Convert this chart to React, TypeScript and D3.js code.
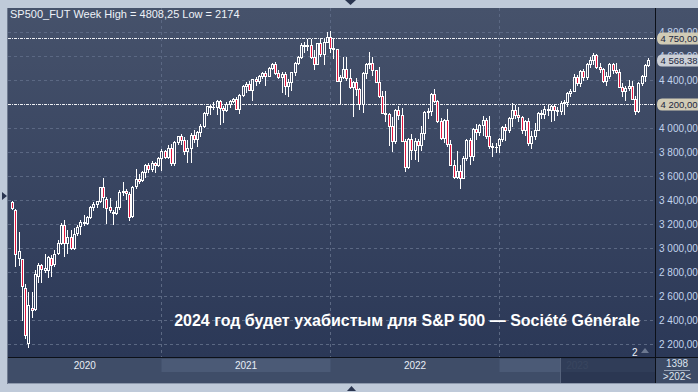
import React from "react";
import * as d3 from "d3";

// weekly candles [open, high, low, close], first week starts 17 Feb 2020
const w2020 = [
  [3380, 3393, 3328, 3337], [3320, 3322, 2850, 2951], [2920, 3137, 2860, 2972], [2905, 2912, 2400, 2680],
  [2667, 2700, 2250, 2275], [2210, 2637, 2174, 2526], [2500, 2637, 2428, 2480], [2490, 2818, 2480, 2783],
  [2770, 2879, 2715, 2862], [2860, 2870, 2717, 2827], [2820, 2954, 2800, 2830], [2815, 2934, 2760, 2925],
  [2920, 2945, 2766, 2858], [2870, 2980, 2850, 2950], [2960, 3068, 2950, 3041], [3040, 3210, 3030, 3190],
  [3190, 3232, 2935, 3039], [3040, 3150, 2960, 3090], [3090, 3152, 2995, 3000], [3000, 3165, 2990, 3120],
  [3125, 3190, 3105, 3177], [3180, 3233, 3120, 3220], [3220, 3275, 3190, 3210], [3210, 3270, 3200, 3260],
  [3260, 3350, 3250, 3345], [3345, 3385, 3320, 3368], [3368, 3395, 3345, 3392], [3395, 3510, 3385, 3505],
  [3505, 3585, 3345, 3425], [3410, 3425, 3210, 3335], [3340, 3420, 3300, 3315], [3300, 3320, 3200, 3295],
  [3295, 3395, 3280, 3340], [3340, 3480, 3325, 3470], [3470, 3547, 3440, 3475], [3475, 3490, 3410, 3455],
  [3450, 3465, 3233, 3260], [3265, 3520, 3260, 3505], [3520, 3660, 3500, 3575], [3575, 3620, 3540, 3555],
  [3565, 3645, 3560, 3635], [3635, 3700, 3590, 3695], [3695, 3710, 3630, 3660], [3660, 3725, 3640, 3705],
  [3705, 3720, 3630, 3690], [3690, 3760, 3680, 3750],
];
const w2021 = [
  [3750, 3825, 3650, 3810], [3810, 3820, 3750, 3760], [3760, 3860, 3750, 3835], [3835, 3865, 3695, 3705],
  [3705, 3890, 3695, 3880], [3880, 3935, 3865, 3930], [3930, 3950, 3865, 3900], [3900, 3925, 3780, 3805],
  [3810, 3900, 3720, 3835], [3835, 3955, 3720, 3940], [3940, 3980, 3880, 3910], [3910, 3975, 3850, 3970],
  [3970, 4030, 3935, 4015], [4015, 4130, 4010, 4125], [4125, 4185, 4105, 4180], [4180, 4190, 4115, 4175],
  [4175, 4215, 4160, 4178], [4175, 4235, 4120, 4225], [4225, 4235, 4030, 4170], [4170, 4185, 4050, 4150],
  [4150, 4215, 4145, 4200], [4200, 4235, 4175, 4225], [4225, 4250, 4215, 4245], [4245, 4260, 4155, 4160],
  [4160, 4285, 4125, 4275], [4275, 4355, 4270, 4350], [4350, 4380, 4300, 4365], [4365, 4390, 4320, 4320],
  [4320, 4410, 4230, 4405], [4405, 4425, 4360, 4390], [4390, 4440, 4375, 4430], [4430, 4465, 4420, 4460],
  [4460, 4475, 4360, 4435], [4435, 4505, 4430, 4500], [4500, 4545, 4495, 4530], [4530, 4550, 4450, 4455],
  [4455, 4485, 4420, 4425], [4425, 4465, 4300, 4450], [4450, 4470, 4280, 4350], [4350, 4410, 4270, 4385],
  [4385, 4470, 4320, 4465], [4465, 4550, 4445, 4540], [4540, 4600, 4530, 4595], [4595, 4710, 4580, 4690],
  [4690, 4715, 4630, 4680], [4680, 4740, 4650, 4695], [4695, 4740, 4580, 4590], [4590, 4650, 4490, 4535],
  [4535, 4710, 4530, 4705], [4705, 4740, 4600, 4615], [4615, 4740, 4530, 4720], [4720, 4800, 4715, 4760],
];
const w2022 = [
  [4760, 4808.25, 4630, 4670], [4670, 4745, 4580, 4655], [4655, 4660, 4390, 4390], [4390, 4445, 4210, 4425],
  [4425, 4595, 4415, 4495], [4495, 4590, 4400, 4415], [4415, 4490, 4330, 4345], [4345, 4395, 4100, 4380],
  [4380, 4415, 4275, 4325], [4325, 4330, 4155, 4200], [4200, 4465, 4130, 4455], [4455, 4545, 4420, 4535],
  [4535, 4630, 4500, 4540], [4540, 4595, 4440, 4480], [4480, 4485, 4380, 4385], [4385, 4510, 4260, 4265],
  [4265, 4310, 4125, 4125], [4125, 4305, 4060, 4115], [4115, 4125, 3855, 4015], [4015, 4090, 3805, 3895],
  [3895, 4160, 3875, 4150], [4150, 4180, 4075, 4105], [4105, 4170, 3895, 3895], [3895, 3905, 3640, 3675],
  [3675, 3915, 3665, 3905], [3905, 3950, 3740, 3820], [3820, 3920, 3745, 3895], [3895, 3910, 3725, 3860],
  [3860, 4015, 3820, 3960], [3960, 4140, 3910, 4130], [4130, 4165, 4080, 4140], [4140, 4290, 4110, 4280],
  [4280, 4325, 4220, 4225], [4225, 4230, 4050, 4055], [4055, 4085, 3905, 3920], [3920, 4075, 3880, 4065],
  [4065, 4160, 3850, 3870], [3870, 3900, 3690, 3690], [3690, 3735, 3585, 3590], [3590, 3810, 3585, 3640],
  [3640, 3690, 3502, 3585], [3585, 3765, 3590, 3750], [3750, 3905, 3735, 3900], [3900, 3920, 3700, 3770],
  [3770, 4000, 3735, 3990], [3990, 4030, 3905, 3965], [3965, 4035, 3940, 4025], [4025, 4100, 3940, 4070],
  [4070, 4080, 3920, 3935], [3935, 4100, 3830, 3850], [3850, 3875, 3765, 3845], [3845, 3875, 3800, 3840],
];
const w2023 = [
  [3860, 3920, 3800, 3910], [3910, 4015, 3890, 4010], [4010, 4030, 3900, 3985], [3985, 4095, 3970, 4085],
  [4085, 4210, 4020, 4150], [4150, 4195, 4080, 4105], [4105, 4175, 4060, 4095], [4095, 4100, 3960, 3985],
  [3985, 4070, 3945, 4060], [4060, 4085, 3860, 3875], [3875, 3975, 3835, 3930], [3930, 4040, 3905, 3985],
  [3985, 4130, 3980, 4125], [4125, 4150, 4080, 4120], [4120, 4180, 4080, 4155], [4155, 4190, 4110, 4150],
  [4150, 4190, 4060, 4185], [4185, 4200, 4070, 4150], [4150, 4175, 4110, 4140], [4140, 4225, 4115, 4210],
  [4210, 4230, 4120, 4220], [4220, 4300, 4180, 4295], [4295, 4325, 4270, 4310], [4310, 4450, 4305, 4425],
  [4425, 4440, 4360, 4375], [4375, 4480, 4350, 4475], [4475, 4490, 4400, 4425], [4425, 4545, 4410, 4530],
  [4530, 4595, 4505, 4565], [4565, 4625, 4530, 4610], [4610, 4620, 4500, 4505], [4505, 4545, 4470, 4490],
  [4490, 4500, 4380, 4395], [4395, 4470, 4360, 4430], [4430, 4545, 4420, 4535], [4535, 4545, 4460, 4480],
  [4480, 4545, 4460, 4470], [4470, 4490, 4340, 4345], [4345, 4375, 4265, 4310], [4310, 4350, 4230, 4335],
  [4335, 4400, 4320, 4350], [4350, 4395, 4240, 4245], [4245, 4270, 4120, 4140], [4140, 4380, 4130, 4375],
  [4375, 4440, 4355, 4430], [4430, 4530, 4390, 4525], [4525, 4580, 4520, 4568.38],
];

const years = ["2020", "2021", "2022", "2023"];
const priceTicks = [2200, 2400, 2600, 2800, 3000, 3200, 3400, 3600, 3800, 4000, 4200, 4400, 4600, 4800];
const levels = [4750, 4200];
const lastPrice = 4568.38;
const header = "SP500_FUT Week High = 4808,25 Low = 2174";
const title = "2024 год будет ухабистым для S&P 500 — Société Générale";

const ru = d3.formatLocale({ decimal: ",", thousands: " ", grouping: [3], currency: ["", ""] });
const fmt = ru.format(",.2f");

const FONT = "'Liberation Sans', Arial, sans-serif";

export default function App() {
  const W = 698;
  const H = 392;
  const L = 8, R = 655, T = 8, B = 357;

  const weeks = [...w2020, ...w2021, ...w2022, ...w2023];
  const yearLens = [w2020.length, w2021.length, w2022.length, w2023.length];
  const yearStart = yearLens.map((_, k) => d3.sum(yearLens.slice(0, k)));

  const x = d3.scaleLinear().domain([0, weeks.length - 1]).range([12.2, 648.2]);
  const y = d3.scaleLinear().domain([2200, 4800]).range([344, 32]);

  // year boundaries (grid lines + bottom bands)
  const gridX = yearStart.slice(1).map((i) => Math.round(x(i)) + 0.5);
  const edges = [L, ...gridX, R];

  // tick labels hidden by a level tag of the same value are not drawn
  const axisTicks = priceTicks.filter((v) => !levels.includes(v));
  const tags = [...levels.map((v) => ({ v, fill: "#d1cbb5" })), { v: lastPrice, fill: "#cbcfd6" }];

  return (
    <div style={{ position: "absolute", left: 0, top: 0 }}>
      <svg width={W} height={H} style={{ display: "block", fontFamily: FONT }}>
        <defs>
          <linearGradient id="bg" gradientUnits="userSpaceOnUse" x1="0" y1={T} x2="0" y2={B}>
            <stop offset="0" stopColor="#46526b" />
            <stop offset="1" stopColor="#2b3857" />
          </linearGradient>
          <clipPath id="plot">
            <rect x={L} y={T} width={R - L} height={B - T} />
          </clipPath>
        </defs>

        {/* frame */}
        <rect width={W} height={H} fill="#bfcad9" />
        <rect x={L} y={T} width={W - L} height={B - T} fill="url(#bg)" />
        <line x1={7.5} y1={T} x2={7.5} y2={384} stroke="#6f7b90" />

        {/* grid */}
        {priceTicks.map((v) => (
          <line key={v} x1={L} x2={R} y1={Math.round(y(v)) + 0.5} y2={Math.round(y(v)) + 0.5}
            stroke="#5b6883" strokeDasharray="3,3" />
        ))}
        {gridX.map((gx) => (
          <line key={gx} x1={gx} x2={gx} y1={T} y2={B} stroke="#5b6883" strokeDasharray="3,3" />
        ))}

        {/* level lines */}
        {levels.map((v) => (
          <line key={v} x1={L} x2={R} y1={Math.round(y(v)) + 0.5} y2={Math.round(y(v)) + 0.5}
            stroke="#eef0f4" strokeDasharray="3,1,1,1" />
        ))}

        {/* candles */}
        <g clipPath="url(#plot)">
          {weeks.map(([o, h, l, c], i) => {
            const cx = Math.round(x(i));
            const top = Math.round(y(Math.max(o, c)));
            const bot = Math.round(y(Math.min(o, c)));
            return (
              <g key={i}>
                <line x1={cx + 0.5} x2={cx + 0.5} y1={Math.round(y(h))} y2={Math.round(y(l)) + 1} stroke="#ffffff" />
                <rect x={cx - 1} y={top} width={3} height={bot - top + 1} fill="#ffffff" />
                {bot - top > 1 && (
                  <rect x={cx} y={top + 1} width={1} height={bot - top - 1}
                    fill={c < o ? "#e4163e" : "url(#bg)"} />
                )}
              </g>
            );
          })}
        </g>

        {/* header */}
        <text x={10} y={18} fontSize={11} fill="#eef2f8">{header}</text>

        {/* title */}
        <text x={640} y={326} textAnchor="end" fontSize={16} fontWeight="bold" fill="#ffffff">{title}</text>

        {/* marker bottom right */}
        <text x={632} y={356} fontSize={10} fill="#eef2f8">2</text>
        <path d="M641,353 L645,348 L649,353 Z" fill="#6c7890" />

        {/* price axis */}
        {axisTicks.map((v) => (
          <text key={v} x={659} y={y(v) + 3.5} fontSize={10} fill="#c3d4ee">{fmt(v)}</text>
        ))}
        {tags.map(({ v, fill }) => {
          const yy = Math.round(y(v)) + 0.5;
          return (
            <g key={v}>
              <path d={`M657,${yy} Q657,${yy - 6} 662,${yy - 6} H698 V${yy + 6} H662 Q657,${yy + 6} 657,${yy} Z`} fill={fill} />
              <text x={660.5} y={yy + 3.5} fontSize={9.5} fill="#1c2741">{fmt(v)}</text>
            </g>
          );
        })}

        {/* date axis */}
        <rect x={L} y={358} width={R - L} height={25} fill="#3f4d68" />
        {years.map((yr, k) =>
          k % 2 === 1 ? (
            <rect key={yr} x={edges[k]} y={359} width={edges[k + 1] - edges[k]} height={13} fill="#4b5a76" />
          ) : null
        )}
        {years.map((yr, k) => (
          <text key={yr} x={(edges[k] + edges[k + 1]) / 2} y={369} textAnchor="middle" fontSize={10}
            fill={k === 3 ? "#5d6c86" : "#e8eef6"}>{yr}</text>
        ))}
        <rect x={560} y={358} width={R - 560} height={25} fill="#1c2640" opacity={0.55} />
        <line x1={560.5} x2={560.5} y1={358} y2={383} stroke="#56637c" />

        {/* bottom-right box */}
        <rect x={656} y={358} width={W - 656} height={25} fill="#3d4b66" />
        <text x={677} y={367} textAnchor="middle" fontSize={10} fill="#dde4ee">1398</text>
        <line x1={664} x2={690} y1={370.5} y2={370.5} stroke="#9aa6b8" />
        <text x={677} y={380} textAnchor="middle" fontSize={10} fill="#dde4ee">{">202<"}</text>

        {/* black borders */}
        <line x1={R + 0.5} x2={R + 0.5} y1={T} y2={383} stroke="#0c1018" />
        <line x1={L} x2={W} y1={B + 0.5} y2={B + 0.5} stroke="#0c1018" />
        <line x1={L} x2={W} y1={383.5} y2={383.5} stroke="#8e9aad" />

        {/* scroll arrows */}
        <path d="M345,0 L356,0 L350.5,5 Z" fill="#2a3550" />
        <path d="M2,192 L7,196 L2,200 Z" fill="#2a3550" />
        <path d="M347,391 L356,391 L351.5,386 Z" fill="#2a3550" />
      </svg>
    </div>
  );
}
